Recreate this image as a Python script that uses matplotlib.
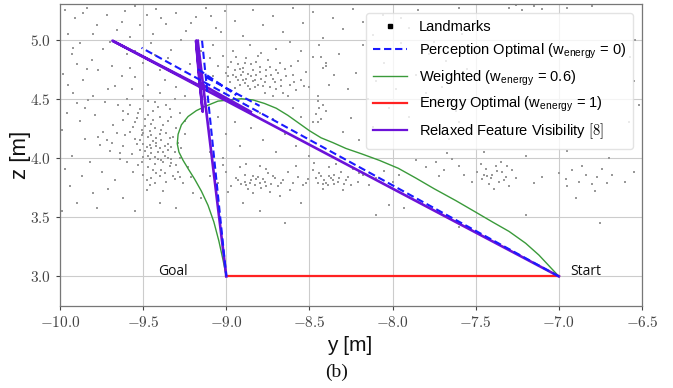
import numpy as np
import matplotlib
matplotlib.use("Agg")
import matplotlib.pyplot as plt
from matplotlib.lines import Line2D
from matplotlib.ticker import FuncFormatter, MultipleLocator

plt.rcParams["mathtext.fontset"] = "cm"

# --- landmark cloud (y, z), grouped by region ---
lm_far_left = [
    (-9.97, 5.25), (-9.91, 5.18), (-9.84, 5.27), (-9.78, 5.12), (-9.95, 5.05), (-9.88, 4.97),
    (-9.72, 5.21), (-9.66, 5.08), (-9.93, 4.88), (-9.81, 4.83), (-9.74, 4.92), (-9.69, 4.78),
    (-9.98, 4.71), (-9.86, 4.66), (-9.77, 4.74), (-9.63, 4.69), (-9.92, 4.55), (-9.83, 4.49),
    (-9.71, 4.58), (-9.65, 4.45), (-9.96, 4.38), (-9.88, 4.31), (-9.79, 4.36), (-9.74, 4.22),
    (-9.68, 4.28), (-9.61, 4.19), (-9.85, 4.16), (-9.76, 4.11), (-9.70, 4.06), (-9.93, 4.02),
    (-9.82, 3.97), (-9.64, 3.99), (-9.97, 3.91), (-9.87, 3.85), (-9.75, 3.88), (-9.67, 3.81),
    (-9.94, 3.76), (-9.80, 3.70), (-9.71, 3.74), (-9.90, 3.62), (-9.78, 3.58), (-9.62, 3.66),
    (-9.99, 3.55), (-9.85, 4.42), (-9.73, 4.47), (-9.90, 4.79), (-9.99, 4.24), (-9.60, 4.88),
    (-9.63, 5.15), (-9.95, 4.62), (-9.69, 4.13), (-9.77, 4.18), (-9.72, 4.15), (-9.66, 4.21),
    (-9.86, 5.22), (-9.80, 5.05), (-9.70, 4.98), (-9.61, 5.24), (-9.92, 4.93), (-9.84, 4.75),
    (-9.67, 4.61), (-9.80, 4.52), (-9.90, 4.46), (-9.62, 4.40),
]
lm_cluster_a = [
    (-9.52, 4.41), (-9.47, 4.36), (-9.41, 4.43), (-9.55, 4.30), (-9.49, 4.27), (-9.44, 4.32),
    (-9.38, 4.28), (-9.33, 4.35), (-9.58, 4.22), (-9.51, 4.19), (-9.46, 4.23), (-9.42, 4.17),
    (-9.36, 4.21), (-9.30, 4.25), (-9.54, 4.12), (-9.48, 4.09), (-9.44, 4.14), (-9.40, 4.08),
    (-9.35, 4.12), (-9.31, 4.05), (-9.57, 4.03), (-9.50, 4.01), (-9.45, 4.04), (-9.41, 3.99),
    (-9.37, 4.02), (-9.33, 3.96), (-9.28, 4.00), (-9.53, 3.94), (-9.47, 3.92), (-9.43, 3.95),
    (-9.39, 3.90), (-9.34, 3.93), (-9.29, 3.88), (-9.50, 3.86), (-9.45, 3.83), (-9.40, 3.85),
    (-9.36, 3.80), (-9.31, 3.82), (-9.26, 3.79), (-9.46, 3.77), (-9.42, 4.10), (-9.39, 4.15),
    (-9.47, 4.18), (-9.43, 4.25), (-9.49, 4.06), (-9.38, 3.97), (-9.46, 3.99), (-9.41, 4.05),
    (-9.35, 4.07), (-9.52, 4.15), (-9.44, 4.40), (-9.36, 4.45), (-9.28, 4.38), (-9.25, 4.31),
    (-9.59, 4.37), (-9.62, 4.10), (-9.60, 3.97), (-9.56, 3.88), (-9.23, 3.92), (-9.21, 3.84),
    (-9.48, 3.73), (-9.38, 3.72), (-9.32, 4.18), (-9.40, 4.20), (-9.45, 4.08), (-9.37, 4.10),
    (-9.42, 3.87), (-9.33, 3.99), (-9.51, 4.24), (-9.29, 4.13), (-9.54, 4.34), (-9.43, 4.47),
    (-9.50, 4.52), (-9.40, 4.55), (-9.31, 4.50), (-9.57, 4.58),
    (-9.53, 4.38), (-9.49, 4.33), (-9.45, 4.29), (-9.40, 4.35), (-9.35, 4.31), (-9.56, 4.26),
    (-9.50, 4.21), (-9.45, 4.19), (-9.39, 4.24), (-9.34, 4.17), (-9.55, 4.16), (-9.50, 4.12),
    (-9.46, 4.11), (-9.42, 4.13), (-9.38, 4.05), (-9.33, 4.09), (-9.52, 4.07), (-9.47, 4.02),
    (-9.43, 4.01), (-9.39, 3.98), (-9.35, 4.00), (-9.30, 3.94), (-9.51, 3.97), (-9.44, 3.90),
    (-9.37, 3.87), (-9.32, 3.85), (-9.48, 3.81), (-9.43, 3.79), (-9.28, 3.84), (-9.58, 4.45),
    (-9.47, 4.48), (-9.34, 4.41), (-9.62, 4.32), (-9.64, 4.04), (-9.27, 4.08), (-9.25, 4.20),
]
lm_cluster_b = [
    (-9.05, 4.78), (-9.00, 4.72), (-8.97, 4.81), (-8.94, 4.68), (-8.92, 4.75), (-8.89, 4.63),
    (-8.87, 4.71), (-8.85, 4.79), (-8.83, 4.66), (-8.80, 4.73), (-8.78, 4.61), (-8.76, 4.69),
    (-8.74, 4.77), (-8.71, 4.64), (-8.69, 4.72), (-8.98, 4.64), (-8.95, 4.59), (-8.91, 4.70),
    (-8.88, 4.84), (-8.86, 4.58), (-8.82, 4.81), (-8.79, 4.67), (-8.77, 4.55), (-8.73, 4.70),
    (-8.70, 4.58), (-8.67, 4.66), (-8.65, 4.75), (-8.62, 4.62), (-8.60, 4.70), (-9.02, 4.86),
    (-8.96, 4.90), (-8.90, 4.66), (-8.84, 4.74), (-8.81, 4.62), (-8.93, 4.79), (-8.99, 4.69),
    (-8.75, 4.83), (-8.68, 4.80), (-8.58, 4.57), (-8.55, 4.66), (-8.63, 4.52), (-8.72, 4.52),
    (-8.86, 4.95), (-8.79, 4.89), (-8.92, 4.62), (-8.88, 4.67), (-8.85, 4.69), (-8.90, 4.76),
    (-8.83, 4.60), (-8.95, 4.74), (-9.08, 4.69), (-9.10, 4.84), (-8.52, 4.73), (-8.57, 4.82),
    (-8.45, 4.48), (-8.44, 4.42), (-8.46, 4.37), (-8.43, 4.33), (-8.45, 4.30), (-8.42, 4.45),
    (-8.43, 4.85), (-8.40, 4.80), (-8.42, 4.76),
    (-8.99, 4.77), (-8.96, 4.70), (-8.93, 4.66), (-8.90, 4.73), (-8.87, 4.61), (-8.84, 4.65),
    (-8.82, 4.70), (-8.80, 4.77), (-8.77, 4.64), (-8.74, 4.60), (-8.72, 4.67), (-8.70, 4.74),
    (-8.67, 4.61), (-8.64, 4.69), (-8.61, 4.78), (-8.59, 4.64), (-8.94, 4.85), (-8.89, 4.80),
    (-8.81, 4.86), (-8.76, 4.74), (-8.66, 4.55), (-8.53, 4.61),
]
lm_band = [
    (-9.10, 3.85), (-9.05, 3.79), (-9.00, 3.88), (-8.97, 3.76), (-8.94, 3.83), (-8.91, 3.78),
    (-8.89, 3.86), (-8.87, 3.74), (-8.85, 3.81), (-8.83, 3.77), (-8.81, 3.84), (-8.79, 3.75),
    (-8.77, 3.80), (-8.75, 3.87), (-8.73, 3.78), (-8.71, 3.83), (-8.69, 3.76), (-8.66, 3.81),
    (-8.63, 3.88), (-8.60, 3.79), (-8.57, 3.84), (-8.54, 3.77), (-8.51, 3.82), (-8.48, 3.90),
    (-8.45, 3.79), (-8.43, 3.85), (-8.41, 3.81), (-8.39, 3.77), (-8.37, 3.83), (-8.35, 3.86),
    (-8.33, 3.80), (-8.31, 3.88), (-8.29, 3.78), (-8.27, 3.84), (-8.24, 3.91), (-8.21, 3.80),
    (-8.18, 3.86), (-8.14, 3.77), (-8.10, 3.83), (-8.05, 3.89), (-8.00, 3.80), (-7.96, 3.86),
    (-8.88, 3.95), (-8.80, 3.93), (-8.74, 3.71), (-8.62, 3.73), (-8.42, 3.74), (-8.38, 3.92),
    (-8.34, 3.95), (-8.30, 3.73), (-8.92, 3.92), (-8.84, 3.70), (-8.76, 3.91), (-9.02, 3.94),
    (-8.99, 3.71), (-8.58, 3.93), (-8.47, 3.96), (-8.86, 3.79), (-8.82, 3.82), (-8.40, 3.79),
    (-8.36, 3.81), (-8.44, 3.87), (-8.78, 3.82), (-8.89, 3.80), (-8.68, 3.68), (-8.80, 3.55),
    (-8.55, 3.62), (-8.02, 3.60), (-7.93, 3.58), (-9.20, 3.70), (-9.15, 3.66),
    (-9.40, 3.62), (-9.55, 3.55), (-9.30, 3.58), (-8.90, 3.62), (-8.65, 3.45), (-8.10, 3.52),
    (-7.60, 3.42), (-7.20, 3.52), (-6.75, 3.45),
    (-8.93, 3.81), (-8.88, 3.77), (-8.84, 3.85), (-8.80, 3.79), (-8.76, 3.76), (-8.72, 3.85),
    (-8.67, 3.79), (-8.52, 3.79), (-8.46, 3.83), (-8.42, 3.78), (-8.38, 3.85), (-8.35, 3.78),
    (-8.32, 3.83), (-8.28, 3.81), (-8.25, 3.77), (-8.20, 3.87),
]
lm_upper = [
    (-9.55, 5.28), (-9.48, 5.21), (-9.42, 5.26), (-9.36, 5.13), (-9.30, 5.22), (-9.24, 5.07),
    (-9.18, 5.19), (-9.12, 5.27), (-9.06, 5.10), (-9.01, 5.24), (-8.95, 5.16), (-8.90, 5.03),
    (-8.84, 5.25), (-8.78, 5.12), (-8.72, 5.20), (-8.66, 5.06), (-8.60, 5.27), (-8.54, 5.14),
    (-8.48, 5.23), (-8.42, 5.01), (-8.36, 5.18), (-8.30, 5.09), (-8.24, 5.26), (-8.18, 5.15),
    (-8.12, 5.04), (-8.06, 5.21), (-9.58, 5.02), (-9.45, 4.97), (-9.33, 4.91), (-9.27, 5.00),
    (-9.50, 4.80), (-9.40, 4.74), (-9.35, 4.84), (-9.28, 4.70), (-9.22, 4.79), (-9.15, 4.90),
    (-9.08, 4.95), (-9.55, 4.68), (-9.47, 4.62), (-9.30, 4.60), (-9.25, 4.52), (-9.60, 4.50),
    (-8.70, 4.92), (-8.62, 4.98), (-8.55, 4.90), (-8.48, 4.85), (-8.44, 4.95), (-8.40, 4.78),
    (-8.35, 4.70), (-8.50, 4.60), (-8.45, 4.52), (-8.38, 4.62), (-8.32, 4.88), (-8.27, 4.58),
    (-8.22, 4.72), (-8.18, 4.95), (-8.15, 4.50), (-8.10, 4.65), (-8.05, 4.80), (-8.02, 4.42),
    (-7.98, 4.58), (-7.95, 4.97), (-7.90, 4.35), (-7.86, 4.70), (-7.82, 4.48), (-7.78, 4.88),
    (-7.74, 4.26), (-7.70, 4.60), (-7.66, 4.16), (-7.62, 4.40), (-7.58, 5.05), (-7.55, 4.75),
    (-8.60, 4.42), (-8.55, 4.35), (-8.48, 4.30), (-8.40, 4.40), (-8.30, 4.22), (-8.25, 4.34),
    (-8.20, 4.15), (-8.12, 4.26), (-8.95, 4.30), (-8.85, 4.25), (-8.78, 4.15), (-8.92, 4.10),
    (-8.70, 4.05), (-8.65, 4.20), (-8.58, 4.10), (-8.50, 4.02), (-8.80, 4.38), (-8.72, 4.33),
    (-8.88, 4.45), (-9.05, 4.35), (-9.00, 4.20), (-9.10, 4.05), (-9.02, 4.00),
    (-9.52, 5.12), (-9.44, 5.05), (-9.39, 5.18), (-9.21, 5.14), (-9.09, 5.20), (-9.03, 5.06),
    (-9.58, 4.76), (-9.43, 4.87), (-9.37, 4.66), (-9.55, 4.90),
]
lm_right = [
    (-7.49, 3.88), (-7.46, 3.82), (-7.44, 3.91), (-7.42, 3.78), (-7.40, 3.86), (-7.38, 3.93),
    (-7.36, 3.80), (-7.34, 3.88), (-7.32, 3.84), (-7.30, 3.76), (-7.28, 3.90), (-7.45, 3.86),
    (-7.41, 3.83), (-7.37, 3.89), (-7.33, 3.81), (-7.39, 3.74), (-7.47, 3.95), (-7.35, 3.97),
    (-7.43, 3.85), (-7.31, 3.93), (-7.26, 3.83), (-7.52, 3.80),
    (-7.80, 3.92), (-7.74, 3.97), (-7.69, 3.90), (-7.64, 3.99), (-7.60, 3.93), (-7.57, 3.86),
    (-7.72, 3.85), (-7.86, 3.98), (-7.67, 4.04),
    (-7.00, 3.87), (-6.96, 3.82), (-6.92, 3.90), (-6.88, 3.80), (-6.84, 3.86), (-6.80, 3.78),
    (-6.77, 3.84), (-6.74, 3.91), (-6.71, 3.79), (-6.68, 3.86), (-6.86, 3.93), (-6.95, 3.76),
    (-6.78, 3.72), (-6.90, 3.66), (-6.60, 3.80), (-6.55, 3.88), (-7.10, 3.84), (-7.15, 3.79),
    (-7.45, 4.05), (-7.20, 4.02), (-6.95, 4.06), (-6.70, 4.00), (-6.58, 4.30), (-6.55, 4.65),
    (-6.54, 5.00), (-6.57, 4.85), (-6.52, 4.45), (-7.30, 5.27), (-7.22, 5.25), (-7.15, 5.28),
    (-7.10, 5.26), (-7.26, 5.29), (-6.95, 5.27), (-6.80, 5.28), (-7.60, 5.27), (-7.85, 5.25),
    (-7.95, 5.18), (-7.90, 5.10), (-7.75, 4.98), (-7.68, 4.82), (-7.80, 4.55), (-7.60, 4.30),
]

# --- trajectories (y, z); NaN breaks separate overlapping passes ---
nan = np.nan
energy_y = [-9.0, -7.0]
energy_z = [3.0, 3.0]

perception_y = [-7.0, -9.51, nan, -9.17, -8.94, nan, -9.12, -8.80, nan, -9.146, -9.066, -9.0]
perception_z = [3.0, 4.93, nan, 4.75, 4.53, nan, 4.68, 4.44, nan, 4.99, 3.90, 3.0]

weighted_y = [-7.0, -7.06, -7.12, -7.20, -7.30, -7.40, -7.507, -7.62, -7.75, -7.86, -7.966,
              -8.08, -8.185, -8.28, -8.36, -8.43, -8.50, -8.57, -8.63, -8.70, -8.77, -8.84,
              -8.91, -8.98, -9.05, -9.12, -9.18, -9.23, -9.27, -9.29, -9.295, -9.285, -9.26,
              -9.23, -9.19, -9.15, -9.11, -9.075, -9.045, -9.02, -9.0]
weighted_z = [3.0, 3.09, 3.18, 3.28, 3.38, 3.46, 3.548, 3.64, 3.74, 3.83, 3.913,
              3.98, 4.034, 4.08, 4.13, 4.17, 4.23, 4.30, 4.36, 4.42, 4.46, 4.49,
              4.50, 4.49, 4.48, 4.44, 4.40, 4.35, 4.28, 4.20, 4.12, 4.05, 3.98,
              3.91, 3.82, 3.72, 3.60, 3.46, 3.30, 3.14, 3.0]

relaxed_y = [-7.0, -9.685, -9.16, -9.182, -9.142, -9.16, -8.853, nan, -9.172, -9.0]
relaxed_z = [3.0, 4.99, 4.61, 4.99, 4.39, 4.63, 4.39, nan, 4.99, 3.0]


def main():
    fig = plt.figure(figsize=(6.73, 3.88), dpi=100)
    ax = fig.add_axes([0.0892, 0.2113, 0.8648, 0.7784])

    pts = np.array(lm_far_left + lm_cluster_a + lm_cluster_b + lm_band + lm_upper + lm_right)
    ax.scatter(pts[:, 0], pts[:, 1], s=2.2, marker="s", c="#999999", linewidths=0, zorder=2)

    ax.plot(perception_y, perception_z, color="#1a1aff", lw=1.5, ls=(0, (3.5, 1.8)), zorder=4)
    ax.plot(weighted_y, weighted_z, color="#3a9a3a", lw=1.0, zorder=3)
    ax.plot(energy_y, energy_z, color="#ff2222", lw=1.6, zorder=3)
    ax.plot(relaxed_y, relaxed_z, color="#6c12d8", lw=1.9, zorder=3)

    txt_font = dict(family="Open Sans", fontsize=10, color="#111111")
    ax.text(-9.32, 3.04, "Goal", ha="center", va="center", **txt_font)
    ax.text(-6.93, 3.04, "Start", ha="left", va="center", **txt_font)

    ax.set_xlim(-10.0, -6.5)
    ax.set_ylim(2.75, 5.3)
    ax.xaxis.set_major_locator(MultipleLocator(0.5))
    ax.yaxis.set_major_locator(MultipleLocator(0.5))
    fmt = FuncFormatter(lambda v, p: f"${v:.1f}$")
    ax.xaxis.set_major_formatter(fmt)
    ax.yaxis.set_major_formatter(fmt)
    ax.tick_params(labelsize=11, colors="#444444", length=3, width=0.8)
    ax.grid(True, color="#cccccc", lw=0.8, zorder=0)
    ax.set_axisbelow(True)
    for sp in ax.spines.values():
        sp.set_color("#777777")
        sp.set_linewidth(0.9)

    lab_font = dict(family="Liberation Sans", color="#111111")
    ax.set_xlabel("y [m]", fontsize=15, **lab_font)
    ax.set_ylabel("z [m]", fontsize=16, **lab_font)
    ax.xaxis.set_label_coords(0.497, -0.100)
    ax.yaxis.set_label_coords(-0.050, 0.5)

    handles = [
        Line2D([], [], ls="none", marker="s", ms=2.5, color="black"),
        Line2D([], [], color="#1a1aff", lw=1.5, ls=(0, (3.5, 1.8))),
        Line2D([], [], color="#3a9a3a", lw=1.0),
        Line2D([], [], color="#ff2222", lw=1.6),
        Line2D([], [], color="#6c12d8", lw=1.6),
    ]
    labels = [
        "Landmarks",
        r"Perception Optimal (w$_{\mathregular{energy}}$ = 0)",
        r"Weighted (w$_{\mathregular{energy}}$ = 0.6)",
        r"Energy Optimal (w$_{\mathregular{energy}}$ = 1)",
        r"Relaxed Feature Visibility $\mathrm{[8]}$",
    ]
    leg = ax.legend(handles, labels, loc="upper right", bbox_to_anchor=(0.985, 0.97),
                    borderaxespad=0, prop={"family": "Liberation Sans", "size": 10.5},
                    framealpha=0.8, edgecolor="#dddddd", handlelength=2.3,
                    labelspacing=0.5, handletextpad=0.8, borderpad=0.5)
    leg.set_zorder(6)

    fig.text(0.500, 0.040, "(b)", ha="center", va="center",
             family="Liberation Serif", fontsize=14, color="#111111")

    fig.savefig("out.png", dpi=100)


if __name__ == "__main__":
    main()
